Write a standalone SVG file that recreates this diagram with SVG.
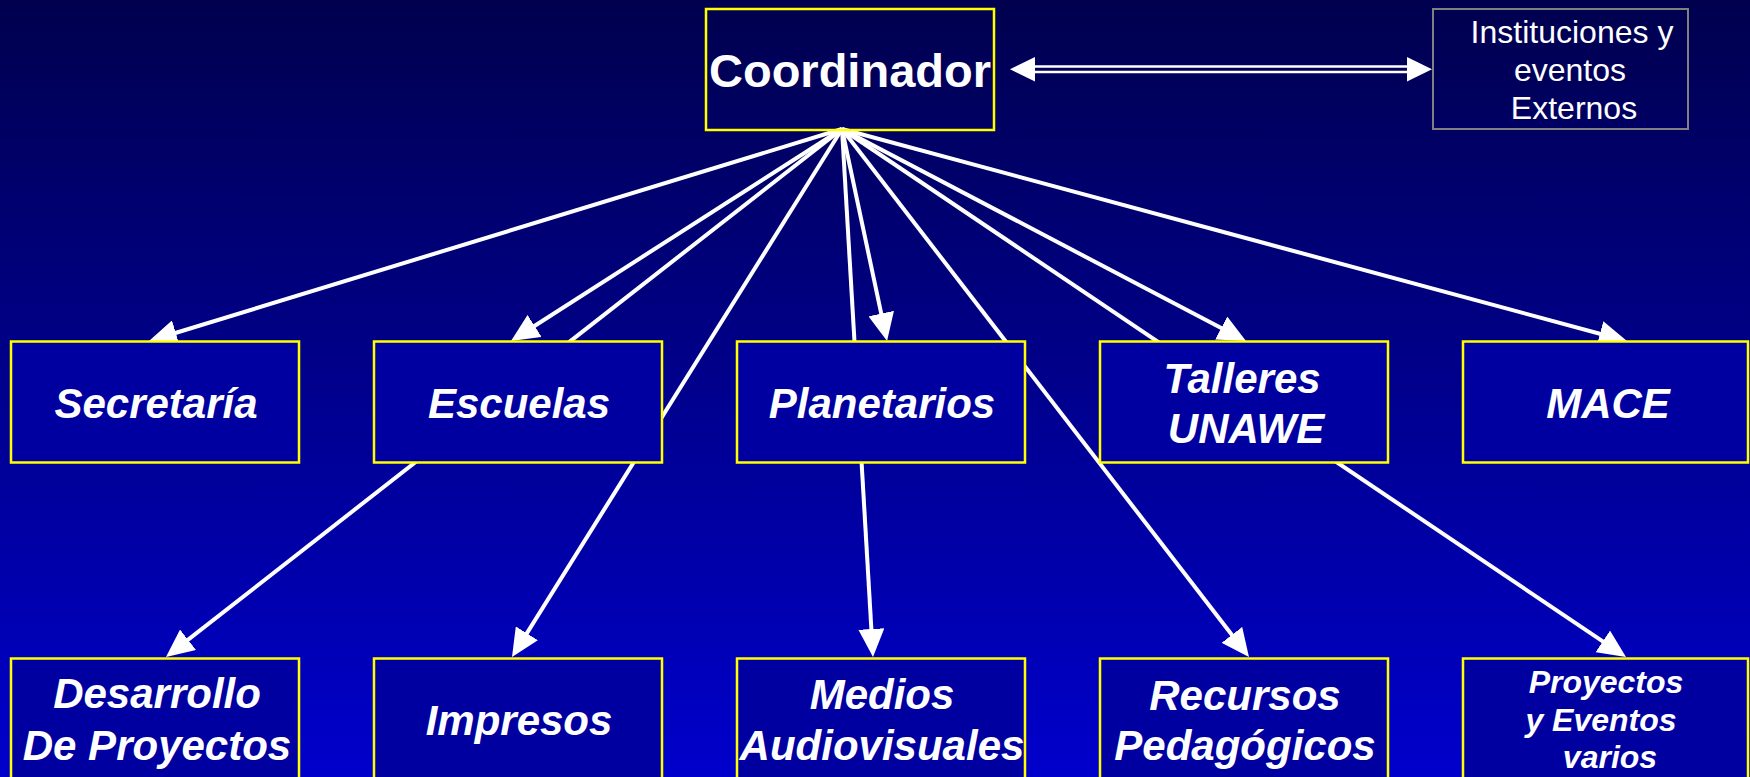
<svg xmlns="http://www.w3.org/2000/svg" width="1750" height="777" viewBox="0 0 1750 777">
  <defs>
    <linearGradient id="bg" x1="0" y1="0" x2="0" y2="1">
      <stop offset="0" stop-color="#00004E"/>
      <stop offset="1" stop-color="#0000CC"/>
    </linearGradient>
    <marker id="ah" markerUnits="userSpaceOnUse" viewBox="0 0 28 26" markerWidth="28" markerHeight="26" refX="21" refY="13" orient="auto">
      <path d="M0,0 L28,13 L0,26 z" fill="#FFFFFF"/>
    </marker>
    <style>
      .box { fill: #0000A0; stroke: #FFFF00; stroke-width: 2.5; }
      .top { fill: none; stroke: #FFFF00; stroke-width: 2.5; }
      .ext { fill: none; stroke: #808080; stroke-width: 2; }
      .t { fill: #FFFFFF; font-family: "Liberation Sans", Arial, sans-serif; font-weight: bold; font-style: italic; font-size: 42px; text-anchor: middle; }
      .ts { font-size: 32px; }
      .coord { fill: #FFFFFF; font-family: "Liberation Sans", Arial, sans-serif; font-weight: bold; font-size: 47px; text-anchor: middle; }
      .ex { fill: #FFFFFF; font-family: "Liberation Sans", Arial, sans-serif; font-size: 32px; text-anchor: middle; }
      .c { stroke: #FFFFFF; stroke-width: 4; fill: none; marker-end: url(#ah); }
    </style>
  </defs>
  <rect x="0" y="0" width="1750" height="777" fill="url(#bg)"/>

  <g id="connectors">
    <line class="c" x1="842" y1="129" x2="155.7" y2="339"/>
    <line class="c" x1="842" y1="129" x2="516.9" y2="337.2"/>
    <line class="c" x1="842" y1="129" x2="885.6" y2="334.1"/>
    <line class="c" x1="842" y1="129" x2="1239.8" y2="337.8"/>
    <line class="c" x1="842" y1="129" x2="1620.2" y2="339.2"/>
    <line class="c" x1="842" y1="129" x2="171.5" y2="652.7"/>
    <line class="c" x1="842" y1="129" x2="515.7" y2="651.1"/>
    <line class="c" x1="842" y1="129" x2="872.6" y2="650"/>
    <line class="c" x1="842" y1="129" x2="1244.7" y2="651.5"/>
    <line class="c" x1="842" y1="129" x2="1620.2" y2="653.1"/>
    <g id="double-arrow">
      <line x1="1030" y1="69.3" x2="1412" y2="69.3" stroke="#FFFFFF" stroke-width="8"/>
      <line x1="1030" y1="69.3" x2="1412" y2="69.3" stroke="#000058" stroke-width="3"/>
      <polygon points="1010,69.3 1035,57 1035,81.5" fill="#FFFFFF"/>
      <polygon points="1432,69.3 1407,57 1407,81.5" fill="#FFFFFF"/>
    </g>
  </g>

  <g id="coordinador">
    <rect class="top" x="706" y="9" width="288" height="121"/>
    <text class="coord" x="850" y="87">Coordinador</text>
  </g>
  <g id="externos">
    <rect class="ext" x="1433" y="9" width="255" height="120"/>
    <text class="ex" x="1572" y="43">Instituciones y</text>
    <text class="ex" x="1570" y="81">eventos</text>
    <text class="ex" x="1574" y="119">Externos</text>
  </g>

  <g id="secretaria">
    <rect class="box" x="11" y="341.5" width="288" height="121"/>
    <text class="t" x="156" y="418">Secretaría</text>
  </g>
  <g id="escuelas">
    <rect class="box" x="374" y="341.5" width="288" height="121"/>
    <text class="t" x="519" y="418">Escuelas</text>
  </g>
  <g id="planetarios">
    <rect class="box" x="737" y="341.5" width="288" height="121"/>
    <text class="t" x="882" y="418">Planetarios</text>
  </g>
  <g id="talleres">
    <rect class="box" x="1100" y="341.5" width="288" height="121"/>
    <text class="t" x="1242" y="393">Talleres</text>
    <text class="t" x="1246" y="443">UNAWE</text>
  </g>
  <g id="mace">
    <rect class="box" x="1463" y="341.5" width="285" height="121"/>
    <text class="t" x="1608" y="418">MACE</text>
  </g>

  <g id="desarrollo">
    <rect class="box" x="11" y="658.5" width="288" height="125"/>
    <text class="t" x="157" y="708">Desarrollo</text>
    <text class="t" x="157" y="760">De Proyectos</text>
  </g>
  <g id="impresos">
    <rect class="box" x="374" y="658.5" width="288" height="125"/>
    <text class="t" x="519" y="735">Impresos</text>
  </g>
  <g id="medios">
    <rect class="box" x="737" y="658.5" width="288" height="125"/>
    <text class="t" x="882" y="709">Medios</text>
    <text class="t" x="882" y="760">Audiovisuales</text>
  </g>
  <g id="recursos">
    <rect class="box" x="1100" y="658.5" width="288" height="125"/>
    <text class="t" x="1245" y="710">Recursos</text>
    <text class="t" x="1245" y="760">Pedagógicos</text>
  </g>
  <g id="proyectos">
    <rect class="box" x="1463" y="658.5" width="285" height="125"/>
    <text class="t ts" x="1606" y="693">Proyectos</text>
    <text class="t ts" x="1601" y="731">y Eventos</text>
    <text class="t ts" x="1610" y="768">varios</text>
  </g>
</svg>
